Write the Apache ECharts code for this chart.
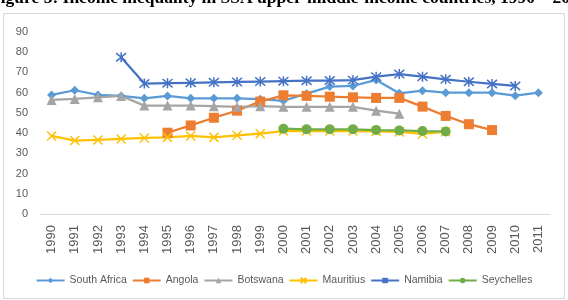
<!DOCTYPE html>
<html><head><meta charset="utf-8">
<script src="https://cdn.jsdelivr.net/npm/echarts@6/dist/echarts.min.js"></script>
<style>html,body{margin:0;padding:0;background:#fff}#c{width:568px;height:300px}</style>
</head><body><div id="c"></div>
<script>
const years = ['1990','1991','1992','1993','1994','1995','1996','1997','1998','1999','2000','2001','2002','2003','2004','2005','2006','2007','2008','2009','2010','2011'];
const southAfrica = [58.9,61.2,58.9,58.4,57.2,58.4,57.2,57.2,57.2,56.8,56,59.5,63,63.3,66.3,59.7,61,60,60,60,58.5,60];
const angola = [null,null,null,null,null,40.2,43.8,47.6,51.1,55.6,58.7,58.4,58,57.7,57.4,57.4,53.1,48.5,44.4,41.5,null,null];
const botswana = [56.4,56.9,57.7,58.4,53.6,53.6,53.6,53.3,53,53.3,53,53,53,53,51.1,49.6,null,null,null,null,null,null];
const mauritius = [38.6,36.3,36.6,37.1,37.6,37.9,38.6,37.9,38.9,39.7,41,41,41,41,40.8,40.6,39.6,40.7,null,null,null,null];
const namibia = [null,null,null,77.5,64.5,64.7,64.9,65.1,65.3,65.5,65.7,65.9,66,66.2,67.9,69.2,67.9,66.6,65.4,64.3,63.3,null];
const seychelles = [null,null,null,null,null,null,null,null,null,null,42.2,41.9,41.9,41.9,41.5,41.3,41,40.8,null,null,null,null];
const seriesNames = ['South Africa','Angola','Botswana','Mauritius','Namibia','Seychelles'];
const titleText = 'Figure 3: Income inequality in SSA upper-middle-income countries, 1990 – 2011';

const colors = ['#5B9BD5','#ED7D31','#A5A5A5','#FFC000','#4472C4','#70AD47'];
const dataSets = [southAfrica, angola, botswana, mauritius, namibia, seychelles];
const symbols = ['diamond','rect','triangle','path://M0,0L10,10M10,0L0,10','path://M0,0L10,10M10,0L0,10M5,-1L5,11','circle'];
const symSizes = [9,10,10,9,10,10];

const chart = echarts.init(document.getElementById('c'));
chart.setOption({
  animation:false,
  graphic:[
    {type:'rect', shape:{x:3.5,y:13.5,width:561,height:285}, style:{fill:'none',stroke:'#d9d9d9',lineWidth:1}, z:-1},
    {type:'text', left:-10, top:-11, style:{text:titleText, font:'bold 17.5px "Liberation Serif", serif', fill:'#000'}}
  ],
  grid:{left:40,right:18,top:32,bottom:86},
  legend:{
    bottom:9, left:'center', itemWidth:28, itemHeight:7, itemGap:5,
    textStyle:{color:'#595959',fontSize:10.5,fontFamily:'"Liberation Sans", sans-serif'},
    data:seriesNames
  },
  xAxis:{
    type:'category', data:years, boundaryGap:true,
    axisLine:{lineStyle:{color:'#d9d9d9'}}, axisTick:{show:false},
    axisLabel:{rotate:90, color:'#595959', fontSize:13, fontFamily:'"Liberation Sans", sans-serif', margin:11}
  },
  yAxis:{
    type:'value', min:0, max:90, interval:10,
    splitLine:{show:false}, axisLine:{show:false}, axisTick:{show:false},
    axisLabel:{color:'#595959', fontSize:11, fontFamily:'"Liberation Sans", sans-serif', margin:12}
  },
  series: seriesNames.map((n,i)=>({
    name:n, type:'line', data:dataSets[i], symbol:symbols[i], symbolSize:symSizes[i],
    showSymbol:true, connectNulls:false,
    lineStyle:{color:colors[i], width:2.25},
    itemStyle:{color:colors[i], borderColor:colors[i], borderWidth:(i===3||i===4)?1.5:0}
  }))
});
</script></body></html>
